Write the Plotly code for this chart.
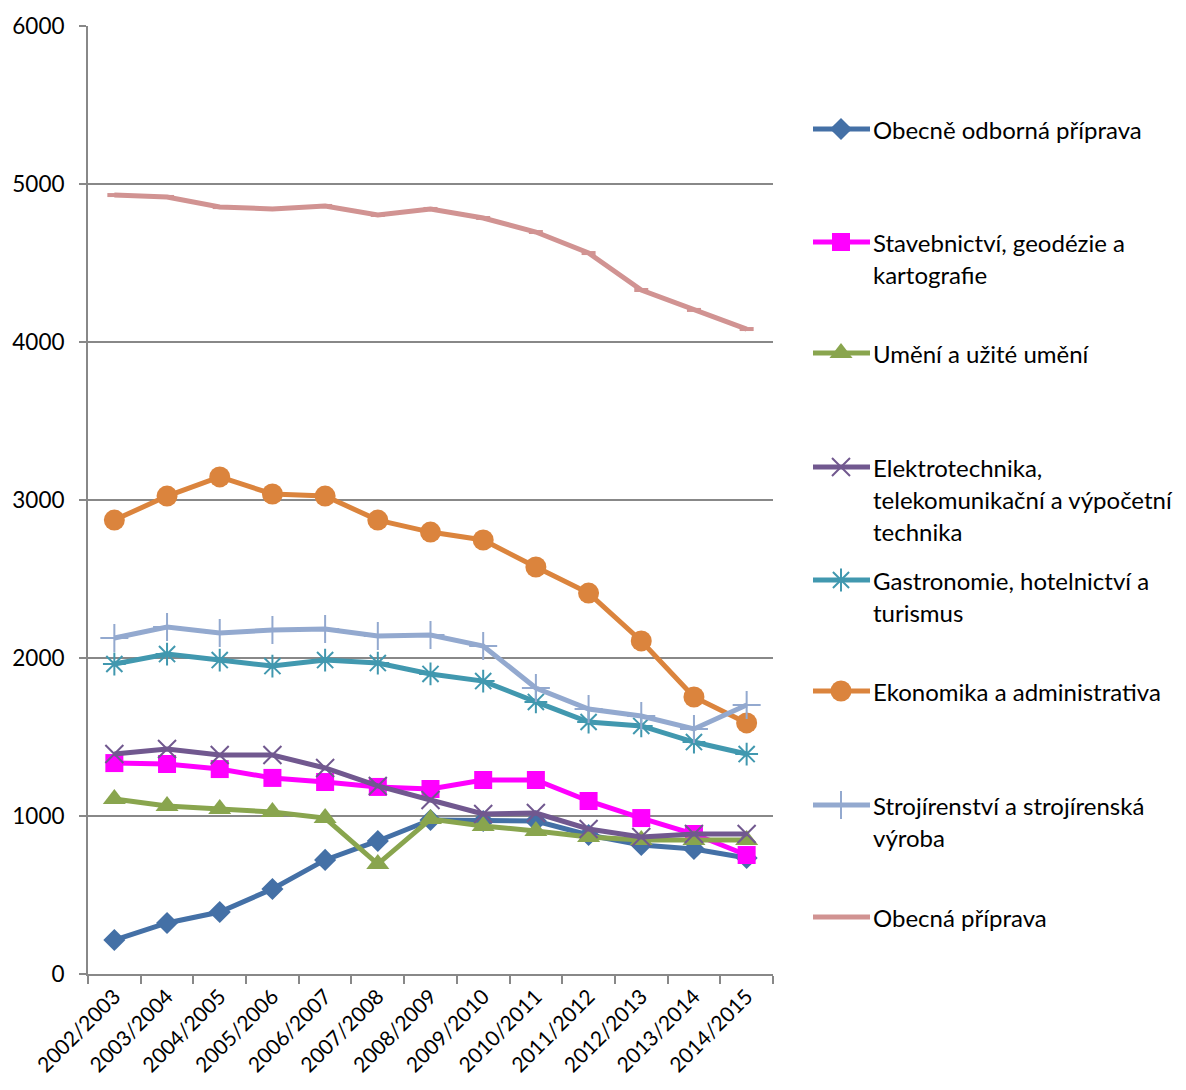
import plotly.graph_objects as go

categories = ["2002/2003", "2003/2004", "2004/2005", "2005/2006", "2006/2007", "2007/2008",
              "2008/2009", "2009/2010", "2010/2011", "2011/2012", "2012/2013", "2013/2014", "2014/2015"]

obecne_odborna = [215, 323, 392, 538, 722, 842, 975, 968, 968, 880, 816, 791, 734]
stavebnictvi = [1335, 1329, 1297, 1241, 1215, 1184, 1171, 1228, 1228, 1095, 987, 886, 753]
umeni = [1108, 1063, 1044, 1025, 987, 696, 981, 937, 905, 867, 848, 848, 848]
elektrotechnika = [1392, 1424, 1386, 1386, 1304, 1190, 1101, 1013, 1019, 918, 867, 886, 886]
gastronomie = [1962, 2025, 1987, 1949, 1987, 1968, 1899, 1854, 1722, 1595, 1570, 1468, 1392]
ekonomika = [2873, 3025, 3146, 3038, 3025, 2873, 2797, 2747, 2576, 2411, 2108, 1753, 1589]
strojirenstvi = [2127, 2196, 2158, 2177, 2184, 2139, 2146, 2076, 1810, 1677, 1633, 1551, 1703]
obecna = [4930, 4918, 4854, 4842, 4861, 4804, 4842, 4785, 4696, 4563, 4329, 4203, 4082]

series_names = ["Obecně odborná příprava", "Stavebnictví, geodézie a kartografie",
                "Umění a užité umění", "Elektrotechnika, telekomunikační a výpočetní technika",
                "Gastronomie, hotelnictví a turismus", "Ekonomika a administrativa",
                "Strojírenství a strojírenská výroba", "Obecná příprava"]
legend_lines = [["Obecně odborná příprava"],
                ["Stavebnictví, geodézie a", "kartografie"],
                ["Umění a užité umění"],
                ["Elektrotechnika,", "telekomunikační a výpočetní", "technika"],
                ["Gastronomie, hotelnictví a", "turismus"],
                ["Ekonomika a administrativa"],
                ["Strojírenství a strojírenská", "výroba"],
                ["Obecná příprava"]]
series_values = [obecne_odborna, stavebnictvi, umeni, elektrotechnika,
                 gastronomie, ekonomika, strojirenstvi, obecna]
y_ticks = [0, 1000, 2000, 3000, 4000, 5000, 6000]

# styles
colors = ["#4470A6", "#FF00FF", "#89A54E", "#71588F", "#4198AF", "#DB843D", "#93A9CF", "#D19392"]
symbols = ["diamond", "square", "triangle-up", "x-thin", "asterisk", "circle", "cross-thin", "line-ew"]
sizes = [17, 18, 20, 18, 19, 21, 20, 10]
legend_top = [129, 242, 353, 467, 580, 691, 805, 917]  # page-pixel layout of custom legend
LINE_GAP = 32

# the page body has an 8px margin; figure coordinates = page coordinates - 8
OFF = 8
W, H = 1186 - 2 * OFF, 1090 - 2 * OFF
page_left, page_top, page_right_plot, page_bottom = 88, 26, 773, 974
L = page_left - OFF
T = page_top - OFF
B = H - (page_bottom - OFF)
R = 0
paper_w = W - L - R
main_frac = (page_right_plot - page_left) / paper_w

FONT = "Lato"
fig = go.Figure()

for name, vals, col, sym, sz in zip(series_names, series_values, colors, symbols, sizes):
    open_sym = sym in ("x-thin", "asterisk", "cross-thin", "line-ew")
    marker = dict(symbol=sym, size=sz, color=col)
    if open_sym:
        marker["line"] = dict(color=col, width=4 if sym == "line-ew" else 2)
    fig.add_trace(go.Scatter(
        x=categories, y=vals, name=name, mode="lines+markers",
        line=dict(color=col, width=5), marker=marker,
        xaxis="x", yaxis="y", showlegend=False, cliponaxis=False))

# custom legend drawn on an overlay axis in page-pixel units
for i, (name, col, sym, sz) in enumerate(zip(series_names, colors, symbols, sizes)):
    yy = legend_top[i]
    open_sym = sym in ("x-thin", "asterisk", "cross-thin", "line-ew")
    fig.add_trace(go.Scatter(
        x=[813, 870], y=[yy, yy], mode="lines", line=dict(color=col, width=5),
        xaxis="x2", yaxis="y2", showlegend=False, hoverinfo="skip"))
    if sym != "line-ew":
        marker = dict(symbol=sym, size=sz, color=col)
        if open_sym:
            marker["line"] = dict(color=col, width=2)
        fig.add_trace(go.Scatter(
            x=[841], y=[yy], mode="markers", marker=marker,
            xaxis="x2", yaxis="y2", showlegend=False, hoverinfo="skip"))
    for j, txt in enumerate(legend_lines[i]):
        fig.add_annotation(x=871, y=yy + j * LINE_GAP, xref="x2", yref="y2", text=txt,
                           showarrow=False, xanchor="left", yanchor="middle",
                           font=dict(family=FONT, size=24, color="#000000"))

fig.update_layout(
    width=W, height=H,
    margin=dict(l=L, r=R, t=T, b=B, pad=0),
    paper_bgcolor="white", plot_bgcolor="white",
    font=dict(family=FONT, size=22, color="#000000"),
    xaxis=dict(domain=[0, main_frac], type="category", range=[-0.5, 12.5],
               tickson="boundaries", ticks="outside", ticklen=8, tickwidth=2, tickcolor="#888888",
               showline=True, linecolor="#888888", linewidth=2, showgrid=False, zeroline=False,
               tickangle=-45, tickfont=dict(family=FONT, size=21, color="#000000"), anchor="y",
               automargin=False),
    yaxis=dict(range=[0, 6000], tickvals=y_ticks, ticks="outside", ticklen=7, tickwidth=2,
               tickcolor="#888888", showline=True, linecolor="#888888", linewidth=2,
               showgrid=True, gridcolor="#888888", gridwidth=2, zeroline=False,
               ticklabelstandoff=10, tickfont=dict(family=FONT, size=22.5, color="#000000"),
               anchor="x", automargin=False),
    xaxis2=dict(domain=[main_frac, 1], range=[page_right_plot, OFF + W], visible=False,
                anchor="y2", fixedrange=True),
    yaxis2=dict(domain=[0, 1], range=[page_bottom, page_top], visible=False, anchor="x2",
                fixedrange=True),
    showlegend=False,
)

fig.write_html("out.html")
